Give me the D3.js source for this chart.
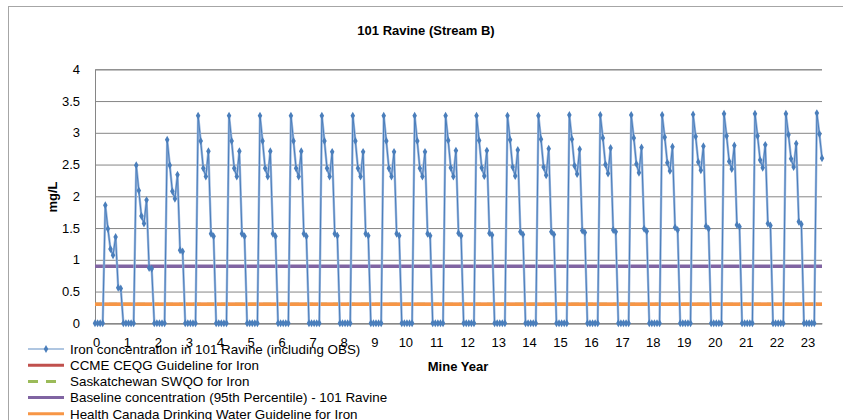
<!DOCTYPE html>
<html><head><meta charset="utf-8">
<script src="https://cdn.jsdelivr.net/npm/d3@7"></script>
<style>body{margin:0;background:#fff}svg{display:block;font-family:"Liberation Sans",Arial,sans-serif}</style>
</head><body><svg id="c" width="843" height="420"></svg>
<script>
// ---- data ----
const xTickLabels = [0,1,2,3,4,5,6,7,8,9,10,11,12,13,14,15,16,17,18,19,20,21,22,23];
const yTickLabels = [0,0.5,1,1.5,2,2.5,3,3.5,4];
// monthly iron concentration (mg/L) per mine year, months Apr..Oct (month index 4..10)
const aprVals = [1.86,2.49,2.89,3.27,3.27,3.27,3.27,3.27,3.27,3.27,3.27,3.27,3.27,3.27,3.27,3.28,3.28,3.28,3.28,3.29,3.30,3.30,3.30,3.31];
const mayVals = [1.49,2.09,2.49,2.87,2.87,2.87,2.87,2.87,2.87,2.87,2.87,2.88,2.88,2.89,2.90,2.90,2.92,2.92,2.93,2.94,2.95,2.95,2.97,2.98];
const junVals = [1.17,1.69,2.08,2.44,2.44,2.44,2.44,2.44,2.44,2.44,2.44,2.45,2.45,2.46,2.46,2.48,2.50,2.51,2.53,2.54,2.55,2.57,2.59,2.60];
const julVals = [1.07,1.57,1.96,2.31,2.31,2.31,2.31,2.31,2.31,2.31,2.31,2.31,2.32,2.32,2.33,2.35,2.36,2.37,2.40,2.41,2.43,2.45,2.46];
const augVals = [1.36,1.94,2.34,2.71,2.71,2.71,2.71,2.70,2.70,2.70,2.70,2.72,2.72,2.73,2.75,2.74,2.76,2.77,2.78,2.79,2.80,2.81,2.83];
const sepVals = [0.56,0.87,1.15,1.41,1.41,1.41,1.41,1.41,1.41,1.41,1.41,1.42,1.42,1.44,1.44,1.46,1.47,1.49,1.51,1.53,1.55,1.57,1.60];
const octVals = [0.55,0.86,1.13,1.37,1.37,1.37,1.37,1.38,1.38,1.38,1.38,1.38,1.39,1.40,1.40,1.43,1.44,1.45,1.47,1.49,1.52,1.54,1.56];
const offSeasonValue = 0;       // Nov..Mar
const lastYear = 23, lastMonth = 6;
const ccmeGuideline = 0.3;
const skSwqo = 0.3;
const baseline95 = 0.9;
const healthCanada = 0.3;
const legendLabels = [
  "Iron concentration in 101 Ravine (including OBS)",
  "CCME CEQG Guideline for Iron",
  "Saskatchewan SWQO for Iron",
  "Baseline  concentration (95th Percentile) - 101 Ravine",
  "Health Canada Drinking Water Guideline for Iron"
];
const titleText = "101 Ravine (Stream B)";
const xTitle = "Mine Year", yTitle = "mg/L";

// ---- build series ----
const seasonal = [aprVals, mayVals, junVals, julVals, augVals, sepVals, octVals];
const series = [];
xTickLabels.forEach(y => {
  for (let m = 0; m < 12; m++) {
    if (y === lastYear && m > lastMonth) break;
    const v = (m >= 4 && m <= 10) ? seasonal[m - 4][y] : offSeasonValue;
    series.push({t: y + m / 12, v});
  }
});

// ---- layout ----
const svg = d3.select("#c");
const L = 95, R = 822, T = 69.3, B = 323.3;
const x = d3.scaleLinear().domain([0, 23.5]).range([L, R]);
const y = d3.scaleLinear().domain([0, 4]).range([B, T]);
const grey = "#868686";

svg.append("rect").attr("width", 843).attr("height", 420).attr("fill", "#fff");
svg.append("rect").attr("x", 8.5).attr("y", 6.5).attr("width", 900).attr("height", 500)
  .attr("fill", "none").attr("stroke", "#a6a6a6");

svg.append("text").attr("x", 426).attr("y", 35).attr("text-anchor", "middle")
  .attr("font-weight", "bold").attr("font-size", 13).text(titleText);

// gridlines
const yAxis = d3.axisLeft(y).tickValues(yTickLabels).tickSize(-(R - L)).tickFormat(d3.format("~g"));
const gy = svg.append("g").attr("transform", `translate(${L},0)`).call(yAxis);
gy.select(".domain").attr("stroke", grey);
gy.selectAll(".tick line").attr("stroke", grey).attr("stroke-width", 1);
gy.selectAll(".tick text").attr("x", -15).attr("font-size", 13).attr("fill", "#000")
  .attr("font-family", "Liberation Sans, Arial, sans-serif");

const xAxis = d3.axisBottom(x).tickValues(xTickLabels).tickSize(0).tickFormat(d3.format("d"));
const gx = svg.append("g").attr("transform", `translate(0,${B})`).call(xAxis);
gx.select(".domain").attr("stroke", grey);
gx.selectAll(".tick text").attr("y", 14).attr("font-size", 13).attr("fill", "#000")
  .attr("font-family", "Liberation Sans, Arial, sans-serif");
gx.selectAll(".tick text").attr("dx", 1);

svg.append("text").attr("transform", "translate(57,197) rotate(-90)").attr("text-anchor", "middle")
  .attr("font-weight", "bold").attr("font-size", 13).text(yTitle);
svg.append("text").attr("x", 458).attr("y", 371).attr("text-anchor", "middle")
  .attr("font-weight", "bold").attr("font-size", 13).text(xTitle);

// guideline lines
const hline = (val, color, w, dash) => svg.append("line").attr("x1", L).attr("x2", R)
  .attr("y1", y(val)).attr("y2", y(val)).attr("stroke", color).attr("stroke-width", w)
  .attr("stroke-dasharray", dash || null);
hline(ccmeGuideline, "#C0504D", 3);
hline(skSwqo, "#9BBB59", 3, "8,6");
hline(baseline95, "#8064A2", 3.5);
hline(healthCanada, "#F79646", 3.5);

// series
const line = d3.line().x(d => x(d.t)).y(d => y(d.v));
svg.append("path").datum(series).attr("d", line).attr("fill", "none")
  .attr("stroke", "#9db8de").attr("stroke-width", 2.4).attr("stroke-linejoin", "round");
svg.append("path").datum(series).attr("d", line).attr("fill", "none")
  .attr("stroke", "#4a7ebb").attr("stroke-width", 1).attr("stroke-linejoin", "round");
const diamond = d3.symbol().type(d3.symbolDiamond).size(18);
svg.append("g").selectAll("path").data(series).join("path")
  .attr("d", diamond).attr("transform", d => `translate(${x(d.t)},${y(d.v)})`)
  .attr("fill", "#4a7ebb");

// legend
const lg = svg.append("g");
const lx1 = 28, lx2 = 64, ly0 = 349, ldy = 16.2;
const lcol = ["#95b3d7", "#C0504D", "#9BBB59", "#8064A2", "#F79646"];
legendLabels.forEach((lab, i) => {
  const yy = ly0 + i * ldy;
  lg.append("line").attr("x1", lx1).attr("x2", lx2).attr("y1", yy).attr("y2", yy)
    .attr("stroke", lcol[i]).attr("stroke-width", i === 0 ? 1.5 : 3)
    .attr("stroke-dasharray", i === 2 ? "10,8" : null);
  if (i === 0) lg.append("path").attr("d", diamond).attr("transform", `translate(${(lx1 + lx2) / 2},${yy})`).attr("fill", "#4a7ebb");
  lg.append("text").attr("x", 70).attr("y", yy + 4.8).attr("font-size", 13.4).text(lab);
});
</script></body></html>
